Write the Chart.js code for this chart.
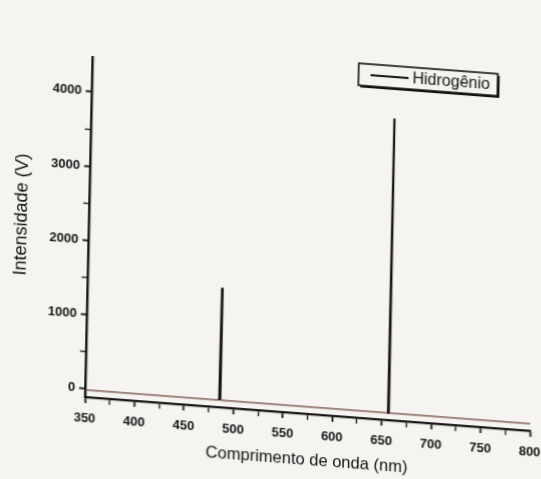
<!DOCTYPE html>
<html>
<head>
<meta charset="utf-8">
<script src="https://cdn.jsdelivr.net/npm/chart.js@4.4.1/dist/chart.umd.min.js"></script>
<style>
  html, body { margin: 0; padding: 0; background: #f6f4f1; }
  body { width: 541px; height: 479px; overflow: hidden; position: relative; }
  #spectrum {
    position: absolute; left: 0; top: 0;
    /* the reference is a photo of a print, slightly skewed */
    transform: matrix(1, 0.076, -0.022, 1, 0, 0);
    transform-origin: 85px 397px;
  }
</style>
</head>
<body>
<canvas id="spectrum" width="541" height="479"></canvas>
<script>
// hydrogen emission lines (H-beta, H-alpha) over a flat baseline
const wavelengths = [350, 485.5, 486, 486.5, 655.6, 656.3, 657, 800];
const intensities = [-15, -15, 1500, -15, -15, 3950, -15, -15];
const seriesLabel = "Hidrogênio";
const xTicks = [350, 400, 450, 500, 550, 600, 650, 700, 750, 800];
const yTicks = [0, 1000, 2000, 3000, 4000];

Chart.defaults.font.family = "'Liberation Sans', Arial, sans-serif";
Chart.defaults.color = "#151515";

// Origin-style legend box drawn inside the plot
const boxLegend = {
  id: "boxLegend",
  afterDraw(chart) {
    const ctx = chart.ctx;
    const ca = chart.chartArea;
    const ds = chart.data.datasets[0];
    const right = ca.right - 40;
    const left = right - 139;
    const top = ca.top - 14;
    const bottom = top + 22;
    ctx.save();
    ctx.fillStyle = "#111";
    ctx.fillRect(left + 2, bottom, right - left, 2);
    ctx.fillRect(right, top + 2, 2, bottom - top);
    ctx.strokeStyle = "#111";
    ctx.lineWidth = 1.6;
    ctx.strokeRect(left, top, right - left, bottom - top);
    const midY = (top + bottom) / 2;
    ctx.strokeStyle = "#111";
    ctx.lineWidth = 1.8;
    ctx.beginPath();
    ctx.moveTo(left + 12, midY);
    ctx.lineTo(left + 50, midY);
    ctx.stroke();
    ctx.fillStyle = "#111";
    ctx.font = "16px 'Liberation Sans', Arial, sans-serif";
    ctx.textBaseline = "middle";
    ctx.fillText(ds.label, left + 54, midY + 1);
    ctx.restore();
  },
};

const points = wavelengths.map((w, i) => ({ x: w, y: intensities[i] }));
const onBaseline = (c) => c.p0.parsed.y < 100 && c.p1.parsed.y < 100;

new Chart(document.getElementById("spectrum"), {
  type: "line",
  data: {
    datasets: [
      {
        label: seriesLabel,
        data: points,
        borderColor: "#141111",
        borderWidth: 2.2,
        segment: {
          borderColor: (c) => (onBaseline(c) ? "#6a4238" : undefined),
          borderWidth: (c) => (onBaseline(c) ? 1.3 : undefined),
        },
        pointRadius: 0,
        tension: 0,
        fill: false,
      },
    ],
  },
  options: {
    responsive: false,
    animation: false,
    devicePixelRatio: 1,
    layout: { padding: { left: 0, right: 11, top: 57, bottom: 0 } },
    plugins: {
      legend: { display: false },
      tooltip: { enabled: false },
    },
    scales: {
      x: {
        type: "linear",
        min: 350,
        max: 800,
        afterBuildTicks: (scale) => {
          const t = [];
          for (let v = 350; v <= 800; v += 25) t.push({ value: v });
          scale.ticks = t;
        },
        afterFit: (scale) => {
          scale.height = 82;
          scale.paddingLeft = 0;
          scale.paddingRight = 0;
        },
        ticks: {
          autoSkip: false,
          maxRotation: 0,
          padding: 8,
          font: { size: 13, weight: "bold" },
          callback: (v) => (xTicks.includes(v) ? v : ""),
        },
        grid: {
          drawOnChartArea: false,
          drawTicks: true,
          tickLength: 6,
          tickColor: "#111",
          tickWidth: (c) => (xTicks.includes(c.tick.value) ? 1.8 : 1.3),
        },
        border: { display: true, color: "#111", width: 2.2 },
        title: {
          display: true,
          text: "Comprimento de onda (nm)",
          font: { size: 16.5 },
          color: "#111",
          padding: { top: 0, bottom: 26 },
        },
      },
      y: {
        min: -110,
        max: 4470,
        afterBuildTicks: (scale) => {
          const t = [];
          for (let v = 0; v <= 4000; v += 500) t.push({ value: v });
          scale.ticks = t;
        },
        afterFit: (scale) => {
          scale.width = 85;
          scale.paddingTop = 0;
          scale.paddingBottom = 0;
        },
        ticks: {
          autoSkip: false,
          padding: 4,
          font: { size: 13, weight: "bold" },
          callback: (v) => (yTicks.includes(v) ? v : ""),
        },
        grid: {
          drawOnChartArea: false,
          drawTicks: true,
          tickLength: 6,
          tickColor: "#111",
          tickWidth: (c) => (yTicks.includes(c.tick.value) ? 1.8 : 1.3),
        },
        border: { display: true, color: "#111", width: 2.4 },
        title: {
          display: true,
          // leading spaces lift the rotated title a little, as in the print
          text: "   Intensidade (V)",
          font: { size: 18 },
          color: "#111",
          padding: { top: 7, bottom: 0 },
        },
      },
    },
  },
  plugins: [boxLegend],
});
</script>
</body>
</html>
